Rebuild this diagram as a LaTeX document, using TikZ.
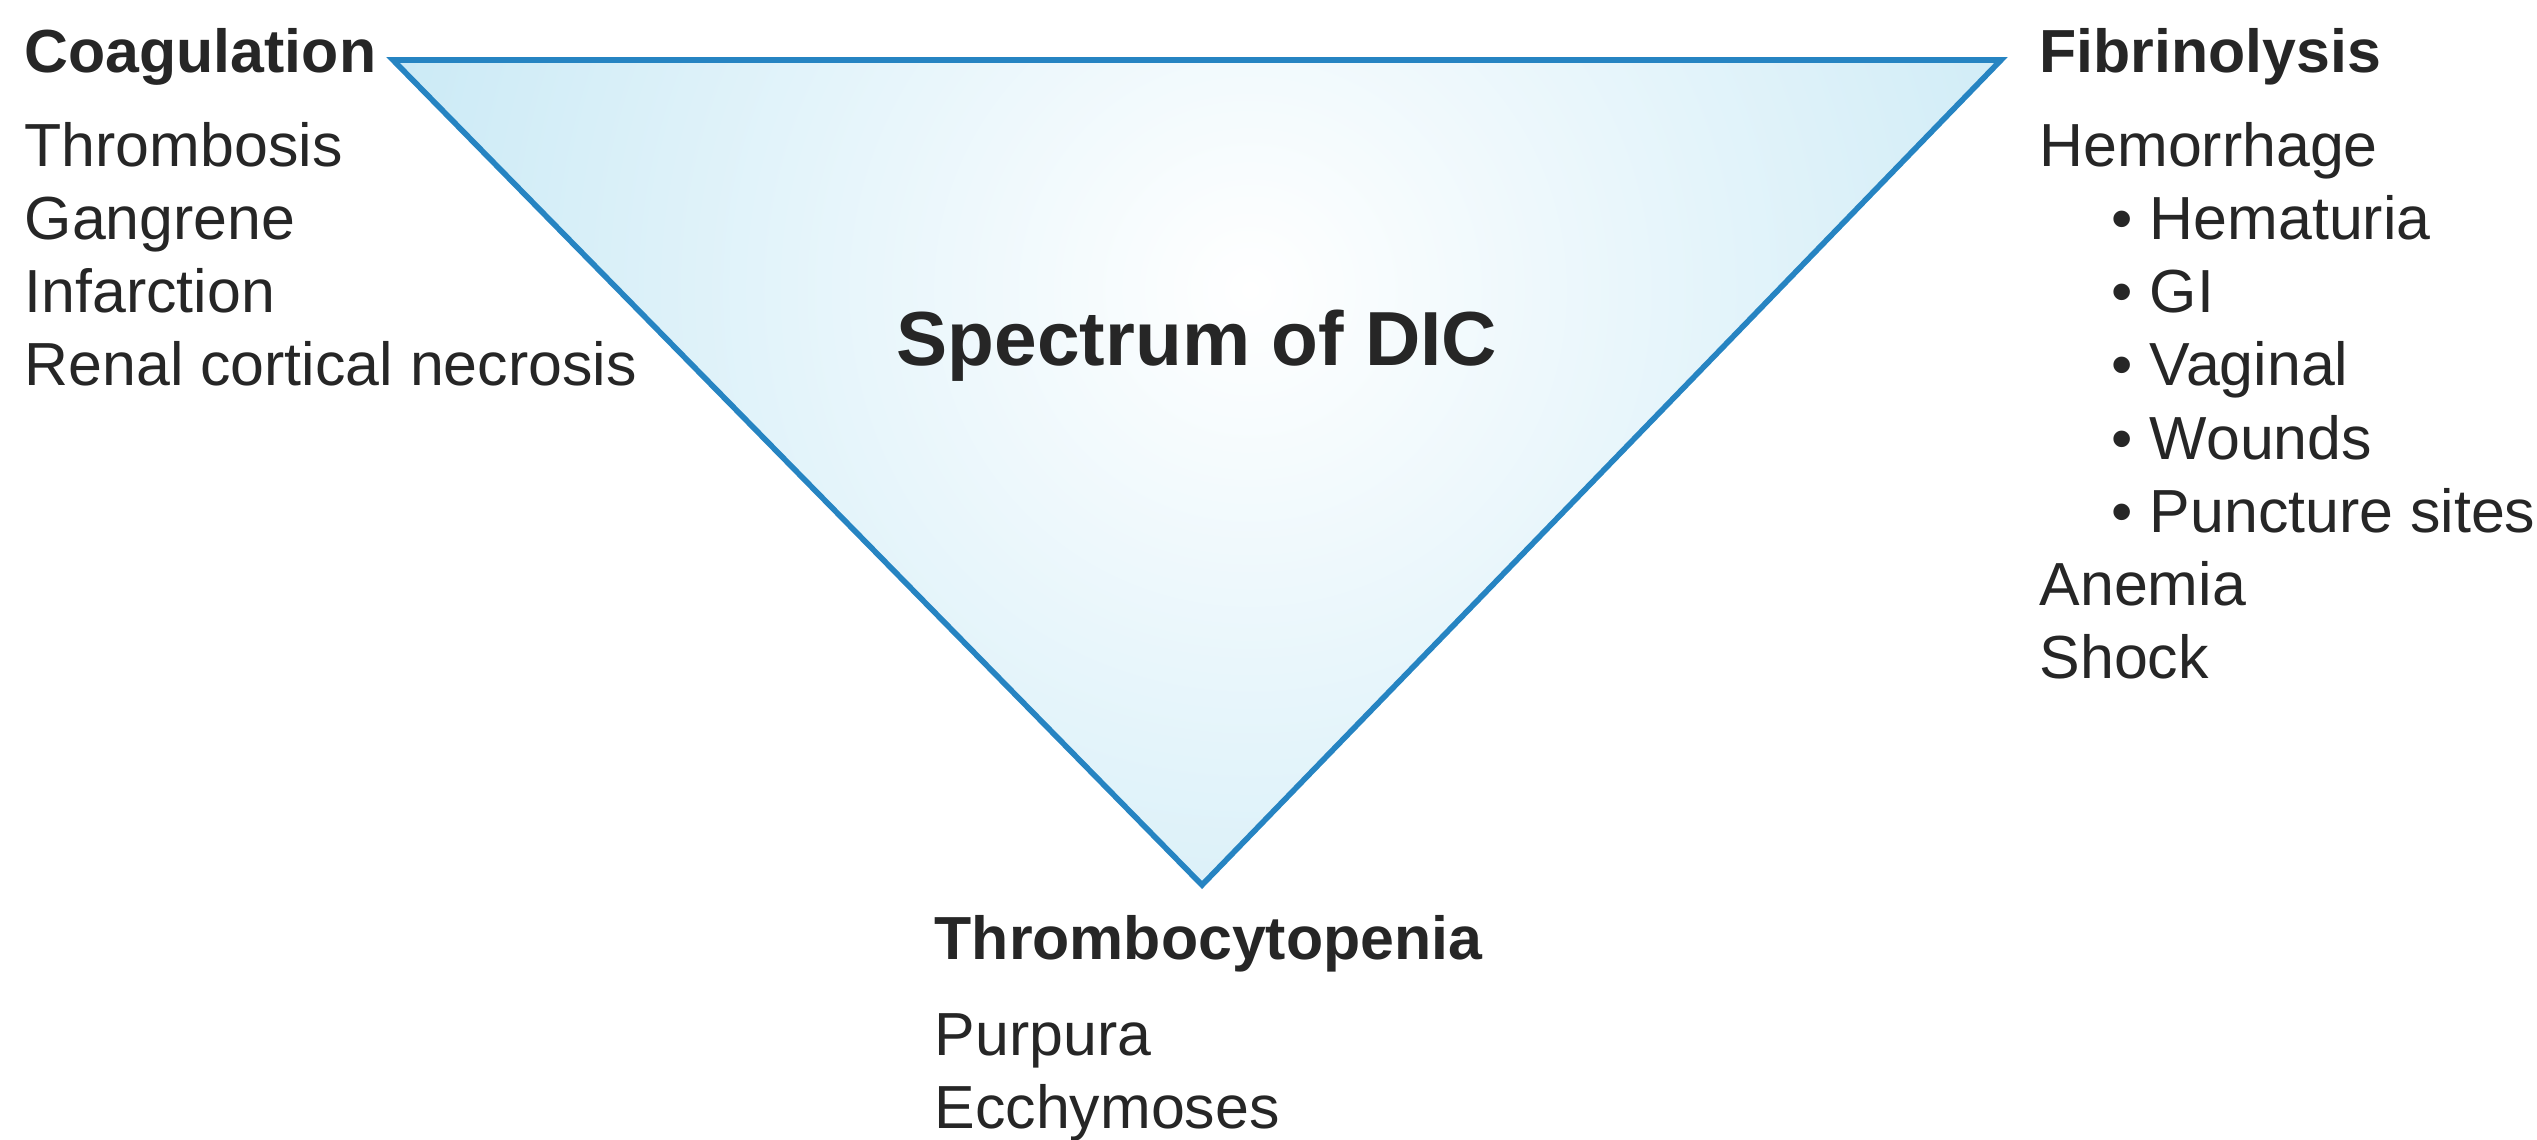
\documentclass[tikz,border=0pt]{standalone}
\usepackage{fontspec}
\setmainfont{Liberation Sans}
\usetikzlibrary{positioning}

\definecolor{edgeblue}{RGB}{38,132,194}
\definecolor{fillblue}{RGB}{176,223,241}
\definecolor{txtgray}{RGB}{38,38,38}

\begin{document}
\begin{tikzpicture}[x=0.01cm, y=-0.01cm,
  item/.style={anchor=base west, inner sep=0pt, text=txtgray,
    font=\fontsize{17.3}{20.8}\selectfont},
  head/.style={item, font=\fontsize{17.3}{20.8}\selectfont\bfseries}]
  \useasboundingbox (0,0) rectangle (2537,1140);

  \coordinate (L) at (393,60);
  \coordinate (R) at (2001,60);
  \coordinate (B) at (1202,885);

  % triangle
  \begin{scope}
    \clip (L) -- (R) -- (B) -- cycle;
    \shade[inner color=white, outer color=fillblue] (1250,290) circle (1350);
  \end{scope}
  \draw[edgeblue, line width=1.6pt] (L) -- (R) -- (B) -- cycle;

  \node[anchor=base, inner sep=0pt, text=txtgray,
    font=\fontsize{21.8}{26}\selectfont\bfseries] (title) at (1197,366) {Spectrum of DIC};

  % left
  \node[head] (coag) at (24,73) {Coagulation};
  \foreach \t [count=\i] in {Thrombosis, Gangrene, Infarction, Renal cortical necrosis}
    \node[item] (coag\i) at (24,{94+73*\i}) {\t};

  % right
  \node[head] (fibr) at (2039,73) {Fibrinolysis};
  \foreach \dx/\t [count=\i] in {0/Hemorrhage, 72/\textbullet\ Hematuria, 72/\textbullet\ GI,
      72/\textbullet\ Vaginal, 72/\textbullet\ Wounds, 72/\textbullet\ Puncture sites,
      0/Anemia, 0/Shock}
    \node[item] (fibr\i) at ({2039+\dx},{94+73*\i}) {\t};

  % bottom
  \node[head] (thromb) at (934,959) {Thrombocytopenia};
  \node[item] (thromb1) at (934,1055) {Purpura};
  \node[item] (thromb2) at (934,1128) {Ecchymoses};
\end{tikzpicture}
\end{document}
